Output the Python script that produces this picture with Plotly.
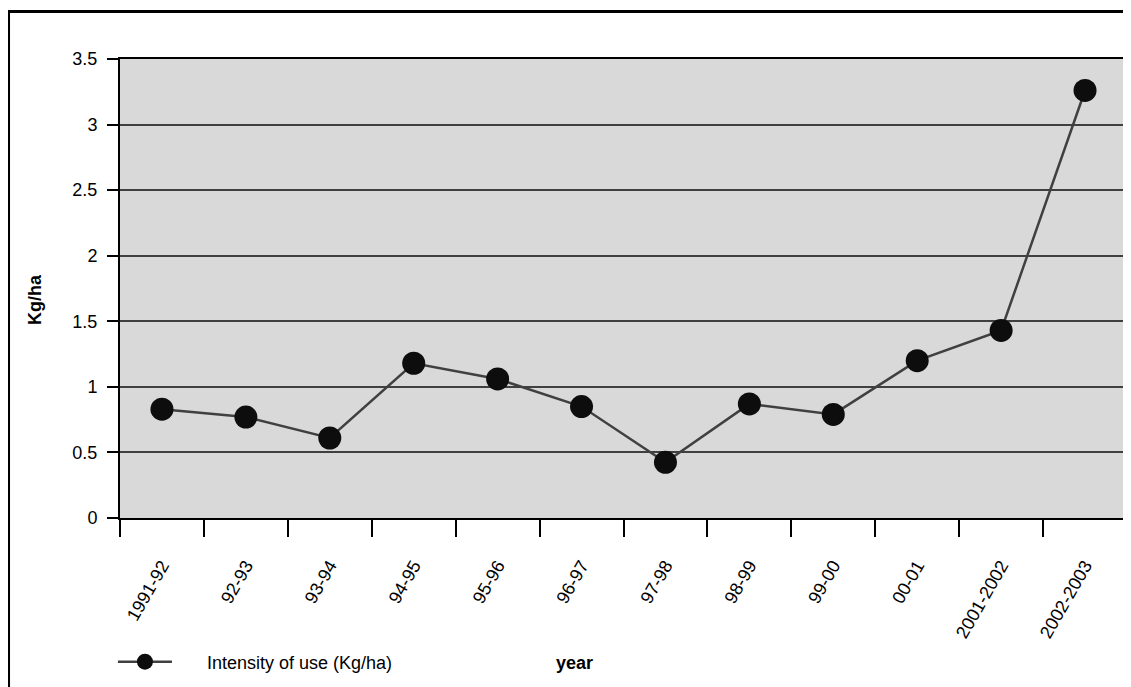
import plotly.graph_objects as go

SEASONS = [
    "1991-92", "92-93", "93-94", "94-95", "95-96", "96-97",
    "97-98", "98-99", "99-00", "00-01", "2001-2002", "2002-2003",
]
INTENSITY = [0.83, 0.77, 0.61, 1.18, 1.06, 0.85, 0.425, 0.87, 0.79, 1.20, 1.43, 3.26]
Y_TICKS = [0, 0.5, 1, 1.5, 2, 2.5, 3, 3.5]
Y_TICK_TEXT = ["0", "0.5", "1", "1.5", "2", "2.5", "3", "3.5"]

FONT = "Liberation Sans, Arial, sans-serif"

fig = go.Figure()
fig.add_trace(
    go.Scatter(
        x=SEASONS,
        y=INTENSITY,
        # non-breaking spaces push the label away from the legend line, like the original
        name="\u00a0" * 6 + "Intensity of use (Kg/ha)",
        mode="lines+markers",
        line=dict(color="#404040", width=2.5),
        marker=dict(color="#0d0d0d", size=23),
    )
)

fig.update_layout(
    width=1131,
    height=687,
    # the page is drawn with an 8px body margin, so everything sits 8px up/left
    margin=dict(l=112, r=12, t=51, b=177),
    paper_bgcolor="white",
    plot_bgcolor="#d9d9d9",
    font=dict(family=FONT, size=18, color="black"),
    showlegend=True,
    legend=dict(
        orientation="h",
        x=-0.007,
        xanchor="left",
        y=-0.3137,
        yanchor="middle",
        itemwidth=54,
        bgcolor="rgba(0,0,0,0)",
        font=dict(size=18),
    ),
    shapes=[
        # outer chart frame
        dict(
            type="rect", xref="paper", yref="paper",
            x0=-0.1107, x1=1.02, y0=-0.40, y1=1.1035,
            line=dict(color="black", width=3), layer="below",
        )
    ],
    annotations=[
        dict(
            text="<b>Kg/ha</b>", xref="paper", yref="paper",
            x=-0.0844, y=0.475, xanchor="center", yanchor="middle",
            textangle=-90, showarrow=False, font=dict(size=18),
        ),
        dict(
            text="<b>year</b>", xref="paper", yref="paper",
            x=0.4518, y=-0.3159, xanchor="center", yanchor="middle",
            showarrow=False, font=dict(size=18),
        ),
    ],
)

fig.update_xaxes(
    type="category",
    tickson="boundaries",
    ticks="outside",
    ticklen=17,
    tickwidth=2,
    tickcolor="black",
    tickangle=-60,
    ticklabelstandoff=28,
    showline=True,
    linecolor="black",
    linewidth=2,
    mirror=True,
    showgrid=False,
    automargin=False,
    range=[-0.5, len(SEASONS) - 0.5],
)
fig.update_yaxes(
    range=[0, 3.5],
    tickvals=Y_TICKS,
    ticktext=Y_TICK_TEXT,
    ticks="outside",
    ticklen=11,
    tickwidth=2,
    tickcolor="black",
    ticklabelstandoff=6,
    showline=True,
    linecolor="black",
    linewidth=2,
    mirror=True,
    showgrid=True,
    gridcolor="#404040",
    gridwidth=1.5,
    zeroline=False,
    automargin=False,
)

fig.write_html("out.html")
